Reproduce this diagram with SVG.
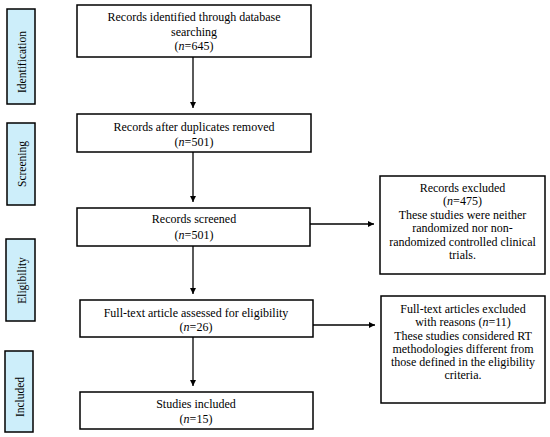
<svg xmlns="http://www.w3.org/2000/svg" width="550" height="437" viewBox="0 0 550 437">
<style>
.box{fill:#fff;stroke:#000;stroke-width:1.5}
.phase{fill:#cdeefa;stroke:#000;stroke-width:1.5}
text{font-family:'Liberation Serif','Times New Roman',serif;font-size:12px;fill:#000;text-anchor:middle}
.pl{font-size:11.5px}
.con{stroke:#000;stroke-width:1.3;fill:none;marker-end:url(#ah)}
</style>
<defs>
<marker id="ah" viewBox="0 0 10 10" refX="10" refY="5" markerWidth="6" markerHeight="6" markerUnits="userSpaceOnUse" orient="auto">
<path d="M0,0 L10,5 L0,10 z" fill="#000"/>
</marker>
</defs>
<rect width="550" height="437" fill="#fff"/>
<g id="phase-identification"><rect class="phase" x="7" y="9" width="28" height="95"/><text class="pl" transform="translate(26,62) rotate(-90)">Identification</text></g>
<g id="phase-screening"><rect class="phase" x="7" y="123" width="28" height="82"/><text class="pl" transform="translate(26,164) rotate(-90)">Screening</text></g>
<g id="phase-eligibility"><rect class="phase" x="6" y="239" width="29" height="82"/><text class="pl" transform="translate(25.5,280.5) rotate(-90)">Eligibility</text></g>
<g id="phase-included"><rect class="phase" x="5" y="351" width="28" height="81"/><text class="pl" transform="translate(24,397) rotate(-90)">Included</text></g>
<g id="box-identified"><rect class="box" x="77" y="5" width="234" height="52"/>
<text x="194" y="21">Records identified through database</text>
<text x="194" y="35.5">searching</text>
<text x="194" y="50">(<tspan font-style="italic">n</tspan>=645)</text></g>
<g id="box-duplicates"><rect class="box" x="77" y="114" width="234" height="38"/>
<text x="194" y="130.5">Records after duplicates removed</text>
<text x="194" y="145.5">(<tspan font-style="italic">n</tspan>=501)</text></g>
<g id="box-screened"><rect class="box" x="77" y="208" width="233" height="38"/>
<text x="194" y="223">Records screened</text>
<text x="194" y="239">(<tspan font-style="italic">n</tspan>=501)</text></g>
<g id="box-fulltext"><rect class="box" x="80" y="300" width="233" height="37"/>
<text x="196" y="317">Full-text article assessed for eligibility</text>
<text x="196" y="331">(<tspan font-style="italic">n</tspan>=26)</text></g>
<g id="box-included"><rect class="box" x="80" y="392" width="233" height="37"/>
<text x="196" y="408">Studies included</text>
<text x="196" y="422.5">(<tspan font-style="italic">n</tspan>=15)</text></g>
<g id="box-excluded1"><rect class="box" x="380" y="176" width="165" height="98"/>
<text x="462.5" y="192">Records excluded</text>
<text x="462.5" y="205">(<tspan font-style="italic">n</tspan>=475)</text>
<text x="462.5" y="218.5">These studies were neither</text>
<text x="462.5" y="232">randomized nor non-</text>
<text x="462.5" y="246">randomized controlled clinical</text>
<text x="462.5" y="259">trials.</text></g>
<g id="box-excluded2"><rect class="box" x="381" y="296" width="164" height="107"/>
<text x="463" y="313">Full-text articles excluded</text>
<text x="463" y="326">with reasons (<tspan font-style="italic">n</tspan>=11)</text>
<text x="463" y="339.5">These studies considered RT</text>
<text x="463" y="353">methodologies different from</text>
<text x="463" y="366">those defined in the eligibility</text>
<text x="463" y="379">criteria.</text></g>
<g id="connectors">
<line class="con" x1="193" y1="57" x2="193" y2="108"/>
<line class="con" x1="193" y1="152" x2="193" y2="202"/>
<line class="con" x1="193" y1="246" x2="193" y2="294"/>
<line class="con" x1="193" y1="337" x2="193" y2="386"/>
<line class="con" x1="310" y1="224" x2="374" y2="224"/>
<line class="con" x1="313" y1="325" x2="375" y2="325"/>
</g>
</svg>
